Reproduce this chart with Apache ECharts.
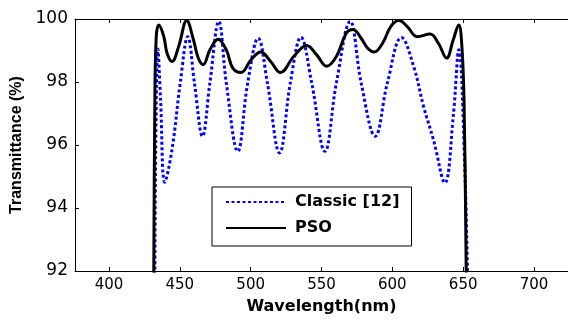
<!DOCTYPE html>
<html><head><meta charset="utf-8">
<script src="https://cdn.jsdelivr.net/npm/echarts@6/dist/echarts.min.js"></script>
<style>html,body{margin:0;padding:0;background:#fff}#c{width:568px;height:320px}</style>
</head><body><div id="c"></div>
<script>
var xTicks = [400, 450, 500, 550, 600, 650, 700];
var classicX = [432.3, 433.0, 434.5, 436.4, 439.4, 444.5, 450.3, 455.6, 460.3, 466.0, 471.2, 477.5, 482.8, 490.9, 497.9, 505.3, 511.8, 520.4, 528.0, 535.5, 543.1, 552.4, 560.5, 570.3, 578.0, 587.9, 596.5, 606.5, 615.1, 622.0, 629.0, 637.1, 643.0, 646.9, 651.1, 653.4];
var classicY = [91.0, 96.0, 99.05, 97.44, 94.82, 95.86, 97.97, 99.44, 97.97, 96.28, 97.97, 99.92, 97.97, 95.80, 97.97, 99.39, 97.97, 95.75, 97.97, 99.42, 97.97, 95.80, 97.97, 99.92, 97.97, 96.28, 97.97, 99.41, 98.49, 97.23, 96.17, 94.80, 96.91, 99.02, 95.33, 91.0];
var psoX = [431.5, 432.3, 433.3, 435.2, 438.7, 441.0, 444.5, 449.1, 454.9, 459.6, 463.0, 466.5, 471.2, 477.0, 482.8, 487.4, 493.2, 500.2, 507.1, 514.1, 521.0, 530.4, 539.6, 546.6, 553.6, 560.5, 567.5, 572.2, 578.0, 582.6, 587.2, 593.1, 598.9, 604.6, 610.5, 617.5, 626.7, 632.5, 638.3, 643.0, 646.9, 648.8, 650.6, 652.4];
var psoY = [91.0, 97.0, 99.4, 99.81, 99.44, 98.91, 98.65, 99.12, 99.95, 99.34, 98.76, 98.55, 99.02, 99.36, 99.02, 98.44, 98.30, 98.70, 98.95, 98.65, 98.30, 98.81, 99.16, 98.86, 98.50, 98.81, 99.55, 99.67, 99.39, 99.07, 98.95, 99.23, 99.76, 99.95, 99.76, 99.44, 99.52, 99.23, 98.76, 99.34, 99.81, 99.34, 97.44, 91.0];

function pairs(xs, ys){ return xs.map(function(x,i){ return [x, ys[i]]; }); }

var chart = echarts.init(document.getElementById('c'), null, {renderer:'canvas'});
chart.setOption({
  animation: false,
  backgroundColor: '#fff',
  grid: {left: 75, top: 19, width: 500, height: 253, containLabel: false},
  legend: {
    orient: 'vertical', left: 212, top: 187,
    backgroundColor: '#fff', borderColor: '#000', borderWidth: 1, borderRadius: 0,
    padding: [7, 12, 10, 13], itemWidth: 60, itemHeight: 14, itemGap: 10,
    itemStyle: {color: 'rgba(0,0,0,0)', borderColor: 'rgba(0,0,0,0)', borderWidth: 0},
    textStyle: {fontFamily: 'DejaVu Sans', fontWeight: 'bold', fontSize: 16, color: '#000', padding: [0,0,0,4]},
    data: ['Classic [12]', 'PSO']
  },
  xAxis: [{
    type: 'value', min: 376, max: 724, position: 'bottom',
    name: 'Wavelength(nm)', nameLocation: 'middle', nameGap: 28,
    nameTextStyle: {fontFamily: 'DejaVu Sans', fontWeight: 'bold', fontSize: 16, color: '#000'},
    axisLine: {lineStyle: {color: '#000', width: 1}},
    axisTick: {inside: true, length: 4, customValues: xTicks, lineStyle: {color: '#000'}},
    axisLabel: {customValues: xTicks, margin: 7, fontFamily: 'DejaVu Sans', fontSize: 15, color: '#000'},
    splitLine: {show: false}
  }, {
    type: 'value', min: 376, max: 724, position: 'top',
    axisLine: {show: true, lineStyle: {color: '#000', width: 1}},
    axisTick: {inside: true, length: 4, customValues: xTicks, lineStyle: {color: '#000'}},
    axisLabel: {show: false},
    splitLine: {show: false}
  }],
  yAxis: [{
    type: 'value', min: 92, max: 100, interval: 2,
    name: 'Transmittance (%)', nameLocation: 'middle', nameGap: 45, nameRotate: 90,
    nameTextStyle: {fontFamily: 'Liberation Sans', fontWeight: 'bold', fontSize: 16, color: '#000'},
    axisLine: {show: true, lineStyle: {color: '#000', width: 1}},
    axisTick: {show: true, inside: true, length: 4, lineStyle: {color: '#000'}},
    axisLabel: {margin: 7, fontFamily: 'DejaVu Sans', fontSize: 17, color: '#000'},
    splitLine: {show: false}
  }],
  series: [{
    name: 'Classic [12]', type: 'line', data: pairs(classicX, classicY),
    symbol: 'none', smooth: 0.4, clip: true,
    lineStyle: {color: '#0000ff', width: 3, type: [3, 2.5]},
    itemStyle: {color: '#0000ff'}, z: 2
  }, {
    name: 'PSO', type: 'line', data: pairs(psoX, psoY),
    symbol: 'none', smooth: 0.4, clip: true,
    lineStyle: {color: '#000', width: 3, type: 'solid'},
    itemStyle: {color: '#000'}, z: 3
  }]
});
</script></body></html>
